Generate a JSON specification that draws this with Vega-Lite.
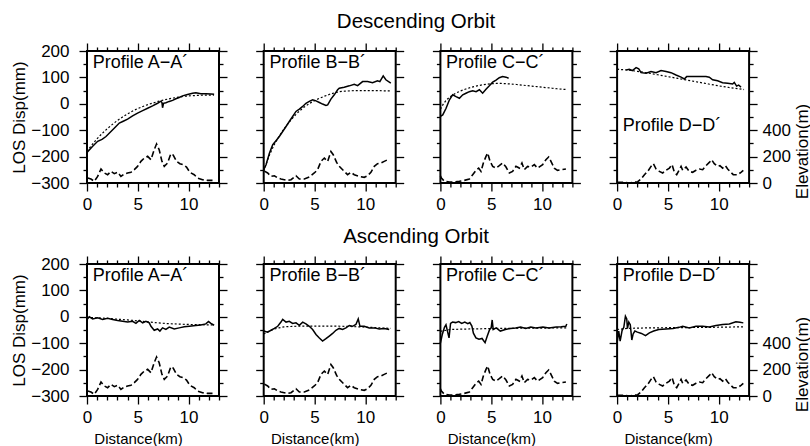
{
"$schema":"https://vega.github.io/schema/vega-lite/v6.json",
"padding":{"left":9,"top":11,"right":0,"bottom":0},
"datasets":{
"los":[
{"orbit":"Descending","profile":"A","km":0,"mm":-184},{"orbit":"Descending","profile":"A","km":0.56,"mm":-161},{"orbit":"Descending","profile":"A","km":1.05,"mm":-142},{"orbit":"Descending","profile":"A","km":1.48,"mm":-135},{"orbit":"Descending","profile":"A","km":1.87,"mm":-124},{"orbit":"Descending","profile":"A","km":2.36,"mm":-105},{"orbit":"Descending","profile":"A","km":2.85,"mm":-86},{"orbit":"Descending","profile":"A","km":3.18,"mm":-73},{"orbit":"Descending","profile":"A","km":3.57,"mm":-66},{"orbit":"Descending","profile":"A","km":4.0,"mm":-58},{"orbit":"Descending","profile":"A","km":4.49,"mm":-46},{"orbit":"Descending","profile":"A","km":4.98,"mm":-35},{"orbit":"Descending","profile":"A","km":5.48,"mm":-26},{"orbit":"Descending","profile":"A","km":5.97,"mm":-17},{"orbit":"Descending","profile":"A","km":6.46,"mm":-8},{"orbit":"Descending","profile":"A","km":6.95,"mm":2},{"orbit":"Descending","profile":"A","km":7.28,"mm":10},{"orbit":"Descending","profile":"A","km":7.38,"mm":5},{"orbit":"Descending","profile":"A","km":7.44,"mm":-15},{"orbit":"Descending","profile":"A","km":7.54,"mm":2},{"orbit":"Descending","profile":"A","km":7.77,"mm":4},{"orbit":"Descending","profile":"A","km":8.1,"mm":9},{"orbit":"Descending","profile":"A","km":8.43,"mm":13},{"orbit":"Descending","profile":"A","km":8.75,"mm":19},{"orbit":"Descending","profile":"A","km":9.08,"mm":24},{"orbit":"Descending","profile":"A","km":9.41,"mm":30},{"orbit":"Descending","profile":"A","km":9.9,"mm":35},{"orbit":"Descending","profile":"A","km":10.39,"mm":40},{"orbit":"Descending","profile":"A","km":10.72,"mm":42},{"orbit":"Descending","profile":"A","km":11.21,"mm":38},{"orbit":"Descending","profile":"A","km":11.7,"mm":38},{"orbit":"Descending","profile":"A","km":12.2,"mm":37},{"orbit":"Descending","profile":"A","km":12.52,"mm":36},
{"orbit":"Descending","profile":"B","km":0,"mm":-250},{"orbit":"Descending","profile":"B","km":0.23,"mm":-231},{"orbit":"Descending","profile":"B","km":0.56,"mm":-187},{"orbit":"Descending","profile":"B","km":0.89,"mm":-155},{"orbit":"Descending","profile":"B","km":1.21,"mm":-140},{"orbit":"Descending","profile":"B","km":1.54,"mm":-124},{"orbit":"Descending","profile":"B","km":1.87,"mm":-105},{"orbit":"Descending","profile":"B","km":2.2,"mm":-86},{"orbit":"Descending","profile":"B","km":2.52,"mm":-67},{"orbit":"Descending","profile":"B","km":2.85,"mm":-48},{"orbit":"Descending","profile":"B","km":3.18,"mm":-29},{"orbit":"Descending","profile":"B","km":3.51,"mm":-20},{"orbit":"Descending","profile":"B","km":3.84,"mm":-10},{"orbit":"Descending","profile":"B","km":4.16,"mm":2},{"orbit":"Descending","profile":"B","km":4.49,"mm":9},{"orbit":"Descending","profile":"B","km":4.82,"mm":15},{"orbit":"Descending","profile":"B","km":5.15,"mm":11},{"orbit":"Descending","profile":"B","km":5.48,"mm":5},{"orbit":"Descending","profile":"B","km":5.8,"mm":-1},{"orbit":"Descending","profile":"B","km":6.13,"mm":-6},{"orbit":"Descending","profile":"B","km":6.3,"mm":-4},{"orbit":"Descending","profile":"B","km":6.62,"mm":18},{"orbit":"Descending","profile":"B","km":6.95,"mm":34},{"orbit":"Descending","profile":"B","km":7.28,"mm":53},{"orbit":"Descending","profile":"B","km":7.44,"mm":59},{"orbit":"Descending","profile":"B","km":7.93,"mm":63},{"orbit":"Descending","profile":"B","km":8.43,"mm":68},{"orbit":"Descending","profile":"B","km":8.92,"mm":74},{"orbit":"Descending","profile":"B","km":9.25,"mm":69},{"orbit":"Descending","profile":"B","km":9.74,"mm":84},{"orbit":"Descending","profile":"B","km":10.23,"mm":84},{"orbit":"Descending","profile":"B","km":10.72,"mm":80},{"orbit":"Descending","profile":"B","km":11.21,"mm":87},{"orbit":"Descending","profile":"B","km":11.44,"mm":84},{"orbit":"Descending","profile":"B","km":11.77,"mm":106},{"orbit":"Descending","profile":"B","km":12.03,"mm":91},{"orbit":"Descending","profile":"B","km":12.52,"mm":78},
{"orbit":"Descending","profile":"C","km":0,"mm":-48},{"orbit":"Descending","profile":"C","km":0.23,"mm":-42},{"orbit":"Descending","profile":"C","km":0.56,"mm":-17},{"orbit":"Descending","profile":"C","km":0.89,"mm":15},{"orbit":"Descending","profile":"C","km":1.21,"mm":34},{"orbit":"Descending","profile":"C","km":1.54,"mm":27},{"orbit":"Descending","profile":"C","km":1.87,"mm":21},{"orbit":"Descending","profile":"C","km":2.2,"mm":34},{"orbit":"Descending","profile":"C","km":2.52,"mm":40},{"orbit":"Descending","profile":"C","km":2.85,"mm":46},{"orbit":"Descending","profile":"C","km":3.18,"mm":49},{"orbit":"Descending","profile":"C","km":3.51,"mm":46},{"orbit":"Descending","profile":"C","km":3.84,"mm":53},{"orbit":"Descending","profile":"C","km":4.16,"mm":40},{"orbit":"Descending","profile":"C","km":4.49,"mm":55},{"orbit":"Descending","profile":"C","km":4.82,"mm":68},{"orbit":"Descending","profile":"C","km":5.15,"mm":82},{"orbit":"Descending","profile":"C","km":5.48,"mm":90},{"orbit":"Descending","profile":"C","km":5.8,"mm":99},{"orbit":"Descending","profile":"C","km":6.13,"mm":103},{"orbit":"Descending","profile":"C","km":6.46,"mm":101},{"orbit":"Descending","profile":"C","km":6.72,"mm":97},
{"orbit":"Descending","profile":"D","km":0.9,"mm":128},{"orbit":"Descending","profile":"D","km":1.2,"mm":131},{"orbit":"Descending","profile":"D","km":1.5,"mm":126},{"orbit":"Descending","profile":"D","km":1.87,"mm":137},{"orbit":"Descending","profile":"D","km":2.13,"mm":132},{"orbit":"Descending","profile":"D","km":2.36,"mm":118},{"orbit":"Descending","profile":"D","km":2.85,"mm":116},{"orbit":"Descending","profile":"D","km":3.34,"mm":122},{"orbit":"Descending","profile":"D","km":3.84,"mm":118},{"orbit":"Descending","profile":"D","km":4.33,"mm":126},{"orbit":"Descending","profile":"D","km":4.82,"mm":122},{"orbit":"Descending","profile":"D","km":5.31,"mm":118},{"orbit":"Descending","profile":"D","km":5.8,"mm":109},{"orbit":"Descending","profile":"D","km":6.3,"mm":101},{"orbit":"Descending","profile":"D","km":6.62,"mm":94},{"orbit":"Descending","profile":"D","km":6.85,"mm":103},{"orbit":"Descending","profile":"D","km":7.44,"mm":103},{"orbit":"Descending","profile":"D","km":8.1,"mm":103},{"orbit":"Descending","profile":"D","km":8.75,"mm":103},{"orbit":"Descending","profile":"D","km":9.08,"mm":101},{"orbit":"Descending","profile":"D","km":9.41,"mm":91},{"orbit":"Descending","profile":"D","km":9.9,"mm":87},{"orbit":"Descending","profile":"D","km":10.39,"mm":80},{"orbit":"Descending","profile":"D","km":10.89,"mm":78},{"orbit":"Descending","profile":"D","km":11.38,"mm":75},{"orbit":"Descending","profile":"D","km":11.54,"mm":81},{"orbit":"Descending","profile":"D","km":11.77,"mm":67},{"orbit":"Descending","profile":"D","km":11.97,"mm":71},{"orbit":"Descending","profile":"D","km":12.2,"mm":63},
{"orbit":"Ascending","profile":"A","km":0,"mm":-10},{"orbit":"Ascending","profile":"A","km":0.23,"mm":0},{"orbit":"Ascending","profile":"A","km":0.56,"mm":-8},{"orbit":"Ascending","profile":"A","km":1.05,"mm":-4},{"orbit":"Ascending","profile":"A","km":1.54,"mm":-10},{"orbit":"Ascending","profile":"A","km":2.03,"mm":-6},{"orbit":"Ascending","profile":"A","km":2.52,"mm":-10},{"orbit":"Ascending","profile":"A","km":3.02,"mm":-14},{"orbit":"Ascending","profile":"A","km":3.51,"mm":-17},{"orbit":"Ascending","profile":"A","km":4.0,"mm":-20},{"orbit":"Ascending","profile":"A","km":4.49,"mm":-17},{"orbit":"Ascending","profile":"A","km":4.82,"mm":-25},{"orbit":"Ascending","profile":"A","km":5.15,"mm":-14},{"orbit":"Ascending","profile":"A","km":5.48,"mm":-23},{"orbit":"Ascending","profile":"A","km":5.8,"mm":-17},{"orbit":"Ascending","profile":"A","km":6.13,"mm":-23},{"orbit":"Ascending","profile":"A","km":6.3,"mm":-36},{"orbit":"Ascending","profile":"A","km":6.62,"mm":-51},{"orbit":"Ascending","profile":"A","km":6.95,"mm":-46},{"orbit":"Ascending","profile":"A","km":7.18,"mm":-54},{"orbit":"Ascending","profile":"A","km":7.44,"mm":-42},{"orbit":"Ascending","profile":"A","km":7.77,"mm":-48},{"orbit":"Ascending","profile":"A","km":8.1,"mm":-39},{"orbit":"Ascending","profile":"A","km":8.59,"mm":-46},{"orbit":"Ascending","profile":"A","km":9.08,"mm":-42},{"orbit":"Ascending","profile":"A","km":9.57,"mm":-38},{"orbit":"Ascending","profile":"A","km":10.07,"mm":-36},{"orbit":"Ascending","profile":"A","km":10.72,"mm":-33},{"orbit":"Ascending","profile":"A","km":11.21,"mm":-31},{"orbit":"Ascending","profile":"A","km":11.7,"mm":-27},{"orbit":"Ascending","profile":"A","km":11.97,"mm":-18},{"orbit":"Ascending","profile":"A","km":12.2,"mm":-25},{"orbit":"Ascending","profile":"A","km":12.52,"mm":-32},
{"orbit":"Ascending","profile":"B","km":0,"mm":-54},{"orbit":"Ascending","profile":"B","km":0.39,"mm":-58},{"orbit":"Ascending","profile":"B","km":0.72,"mm":-51},{"orbit":"Ascending","profile":"B","km":1.05,"mm":-44},{"orbit":"Ascending","profile":"B","km":1.38,"mm":-36},{"orbit":"Ascending","profile":"B","km":1.7,"mm":-20},{"orbit":"Ascending","profile":"B","km":1.87,"mm":-10},{"orbit":"Ascending","profile":"B","km":2.2,"mm":-20},{"orbit":"Ascending","profile":"B","km":2.52,"mm":-17},{"orbit":"Ascending","profile":"B","km":2.85,"mm":-25},{"orbit":"Ascending","profile":"B","km":3.18,"mm":-23},{"orbit":"Ascending","profile":"B","km":3.51,"mm":-32},{"orbit":"Ascending","profile":"B","km":3.84,"mm":-20},{"orbit":"Ascending","profile":"B","km":4.16,"mm":-27},{"orbit":"Ascending","profile":"B","km":4.49,"mm":-36},{"orbit":"Ascending","profile":"B","km":4.82,"mm":-48},{"orbit":"Ascending","profile":"B","km":5.15,"mm":-67},{"orbit":"Ascending","profile":"B","km":5.48,"mm":-80},{"orbit":"Ascending","profile":"B","km":5.8,"mm":-92},{"orbit":"Ascending","profile":"B","km":6.13,"mm":-83},{"orbit":"Ascending","profile":"B","km":6.46,"mm":-73},{"orbit":"Ascending","profile":"B","km":6.79,"mm":-63},{"orbit":"Ascending","profile":"B","km":7.11,"mm":-51},{"orbit":"Ascending","profile":"B","km":7.44,"mm":-44},{"orbit":"Ascending","profile":"B","km":7.77,"mm":-48},{"orbit":"Ascending","profile":"B","km":8.1,"mm":-42},{"orbit":"Ascending","profile":"B","km":8.43,"mm":-33},{"orbit":"Ascending","profile":"B","km":8.75,"mm":-36},{"orbit":"Ascending","profile":"B","km":9.08,"mm":-29},{"orbit":"Ascending","profile":"B","km":9.31,"mm":-8},{"orbit":"Ascending","profile":"B","km":9.48,"mm":-36},{"orbit":"Ascending","profile":"B","km":9.9,"mm":-36},{"orbit":"Ascending","profile":"B","km":10.39,"mm":-42},{"orbit":"Ascending","profile":"B","km":10.89,"mm":-42},{"orbit":"Ascending","profile":"B","km":11.38,"mm":-46},{"orbit":"Ascending","profile":"B","km":11.87,"mm":-44},{"orbit":"Ascending","profile":"B","km":12.36,"mm":-48},
{"orbit":"Ascending","profile":"C","km":0,"mm":-100},{"orbit":"Ascending","profile":"C","km":0.2,"mm":-65},{"orbit":"Ascending","profile":"C","km":0.4,"mm":-40},{"orbit":"Ascending","profile":"C","km":0.55,"mm":-30},{"orbit":"Ascending","profile":"C","km":0.7,"mm":-55},{"orbit":"Ascending","profile":"C","km":0.85,"mm":-80},{"orbit":"Ascending","profile":"C","km":1.0,"mm":-25},{"orbit":"Ascending","profile":"C","km":1.2,"mm":-20},{"orbit":"Ascending","profile":"C","km":1.5,"mm":-22},{"orbit":"Ascending","profile":"C","km":1.8,"mm":-18},{"orbit":"Ascending","profile":"C","km":2.1,"mm":-25},{"orbit":"Ascending","profile":"C","km":2.4,"mm":-20},{"orbit":"Ascending","profile":"C","km":2.7,"mm":-26},{"orbit":"Ascending","profile":"C","km":2.9,"mm":-22},{"orbit":"Ascending","profile":"C","km":3.1,"mm":-35},{"orbit":"Ascending","profile":"C","km":3.25,"mm":-62},{"orbit":"Ascending","profile":"C","km":3.5,"mm":-80},{"orbit":"Ascending","profile":"C","km":3.8,"mm":-85},{"orbit":"Ascending","profile":"C","km":4.1,"mm":-82},{"orbit":"Ascending","profile":"C","km":4.4,"mm":-98},{"orbit":"Ascending","profile":"C","km":4.6,"mm":-75},{"orbit":"Ascending","profile":"C","km":4.85,"mm":-48},{"orbit":"Ascending","profile":"C","km":5.0,"mm":-42},{"orbit":"Ascending","profile":"C","km":5.1,"mm":-12},{"orbit":"Ascending","profile":"C","km":5.2,"mm":-48},{"orbit":"Ascending","profile":"C","km":5.5,"mm":-42},{"orbit":"Ascending","profile":"C","km":5.9,"mm":-54},{"orbit":"Ascending","profile":"C","km":6.4,"mm":-48},{"orbit":"Ascending","profile":"C","km":6.9,"mm":-44},{"orbit":"Ascending","profile":"C","km":7.4,"mm":-42},{"orbit":"Ascending","profile":"C","km":7.9,"mm":-39},{"orbit":"Ascending","profile":"C","km":8.4,"mm":-44},{"orbit":"Ascending","profile":"C","km":8.9,"mm":-39},{"orbit":"Ascending","profile":"C","km":9.4,"mm":-42},{"orbit":"Ascending","profile":"C","km":10.1,"mm":-39},{"orbit":"Ascending","profile":"C","km":10.7,"mm":-42},{"orbit":"Ascending","profile":"C","km":11.4,"mm":-39},{"orbit":"Ascending","profile":"C","km":11.9,"mm":-38},{"orbit":"Ascending","profile":"C","km":12.35,"mm":-36},{"orbit":"Ascending","profile":"C","km":12.45,"mm":-27},
{"orbit":"Ascending","profile":"D","km":0,"mm":-98},{"orbit":"Ascending","profile":"D","km":0.16,"mm":-54},{"orbit":"Ascending","profile":"D","km":0.3,"mm":-92},{"orbit":"Ascending","profile":"D","km":0.49,"mm":-52},{"orbit":"Ascending","profile":"D","km":0.66,"mm":-40},{"orbit":"Ascending","profile":"D","km":0.82,"mm":2},{"orbit":"Ascending","profile":"D","km":0.95,"mm":-8},{"orbit":"Ascending","profile":"D","km":1.02,"mm":-45},{"orbit":"Ascending","profile":"D","km":1.15,"mm":-20},{"orbit":"Ascending","profile":"D","km":1.3,"mm":-30},{"orbit":"Ascending","profile":"D","km":1.45,"mm":-88},{"orbit":"Ascending","profile":"D","km":1.58,"mm":-65},{"orbit":"Ascending","profile":"D","km":1.75,"mm":-54},{"orbit":"Ascending","profile":"D","km":2.0,"mm":-58},{"orbit":"Ascending","profile":"D","km":2.4,"mm":-63},{"orbit":"Ascending","profile":"D","km":2.8,"mm":-71},{"orbit":"Ascending","profile":"D","km":3.18,"mm":-61},{"orbit":"Ascending","profile":"D","km":3.6,"mm":-54},{"orbit":"Ascending","profile":"D","km":4.1,"mm":-48},{"orbit":"Ascending","profile":"D","km":4.82,"mm":-46},{"orbit":"Ascending","profile":"D","km":5.5,"mm":-44},{"orbit":"Ascending","profile":"D","km":6.1,"mm":-40},{"orbit":"Ascending","profile":"D","km":6.46,"mm":-36},{"orbit":"Ascending","profile":"D","km":7.1,"mm":-42},{"orbit":"Ascending","profile":"D","km":7.77,"mm":-36},{"orbit":"Ascending","profile":"D","km":8.43,"mm":-36},{"orbit":"Ascending","profile":"D","km":9.08,"mm":-39},{"orbit":"Ascending","profile":"D","km":9.74,"mm":-33},{"orbit":"Ascending","profile":"D","km":10.39,"mm":-29},{"orbit":"Ascending","profile":"D","km":11.05,"mm":-27},{"orbit":"Ascending","profile":"D","km":11.7,"mm":-19},{"orbit":"Ascending","profile":"D","km":12.1,"mm":-21},{"orbit":"Ascending","profile":"D","km":12.43,"mm":-23}
],
"model":[
{"orbit":"Descending","profile":"A","km":0,"mm":-180},{"orbit":"Descending","profile":"A","km":0.5,"mm":-155},{"orbit":"Descending","profile":"A","km":1,"mm":-132},{"orbit":"Descending","profile":"A","km":1.5,"mm":-112},{"orbit":"Descending","profile":"A","km":2,"mm":-94},{"orbit":"Descending","profile":"A","km":2.5,"mm":-78},{"orbit":"Descending","profile":"A","km":3,"mm":-63},{"orbit":"Descending","profile":"A","km":3.5,"mm":-50},{"orbit":"Descending","profile":"A","km":4,"mm":-38},{"orbit":"Descending","profile":"A","km":4.5,"mm":-27},{"orbit":"Descending","profile":"A","km":5,"mm":-18},{"orbit":"Descending","profile":"A","km":5.5,"mm":-10},{"orbit":"Descending","profile":"A","km":6,"mm":-3},{"orbit":"Descending","profile":"A","km":6.5,"mm":3},{"orbit":"Descending","profile":"A","km":7,"mm":9},{"orbit":"Descending","profile":"A","km":7.5,"mm":14},{"orbit":"Descending","profile":"A","km":8,"mm":18},{"orbit":"Descending","profile":"A","km":8.5,"mm":22},{"orbit":"Descending","profile":"A","km":9,"mm":25},{"orbit":"Descending","profile":"A","km":9.5,"mm":28},{"orbit":"Descending","profile":"A","km":10,"mm":30},{"orbit":"Descending","profile":"A","km":10.5,"mm":31},{"orbit":"Descending","profile":"A","km":11,"mm":32},{"orbit":"Descending","profile":"A","km":11.5,"mm":33},{"orbit":"Descending","profile":"A","km":12,"mm":33},{"orbit":"Descending","profile":"A","km":12.5,"mm":33},
{"orbit":"Descending","profile":"B","km":0,"mm":-255},{"orbit":"Descending","profile":"B","km":0.5,"mm":-200},{"orbit":"Descending","profile":"B","km":1,"mm":-157},{"orbit":"Descending","profile":"B","km":1.5,"mm":-124},{"orbit":"Descending","profile":"B","km":2,"mm":-95},{"orbit":"Descending","profile":"B","km":2.5,"mm":-70},{"orbit":"Descending","profile":"B","km":3,"mm":-47},{"orbit":"Descending","profile":"B","km":3.5,"mm":-28},{"orbit":"Descending","profile":"B","km":4,"mm":-12},{"orbit":"Descending","profile":"B","km":4.5,"mm":1},{"orbit":"Descending","profile":"B","km":5,"mm":12},{"orbit":"Descending","profile":"B","km":5.5,"mm":21},{"orbit":"Descending","profile":"B","km":6,"mm":29},{"orbit":"Descending","profile":"B","km":6.5,"mm":36},{"orbit":"Descending","profile":"B","km":7,"mm":42},{"orbit":"Descending","profile":"B","km":7.5,"mm":46},{"orbit":"Descending","profile":"B","km":8,"mm":48},{"orbit":"Descending","profile":"B","km":8.5,"mm":49},{"orbit":"Descending","profile":"B","km":9,"mm":50},{"orbit":"Descending","profile":"B","km":10,"mm":50},{"orbit":"Descending","profile":"B","km":11,"mm":50},{"orbit":"Descending","profile":"B","km":12,"mm":49},{"orbit":"Descending","profile":"B","km":12.5,"mm":49},
{"orbit":"Descending","profile":"C","km":0,"mm":-20},{"orbit":"Descending","profile":"C","km":0.3,"mm":0},{"orbit":"Descending","profile":"C","km":0.6,"mm":15},{"orbit":"Descending","profile":"C","km":1,"mm":28},{"orbit":"Descending","profile":"C","km":1.5,"mm":40},{"orbit":"Descending","profile":"C","km":2,"mm":49},{"orbit":"Descending","profile":"C","km":2.5,"mm":56},{"orbit":"Descending","profile":"C","km":3,"mm":62},{"orbit":"Descending","profile":"C","km":3.5,"mm":67},{"orbit":"Descending","profile":"C","km":4,"mm":71},{"orbit":"Descending","profile":"C","km":4.5,"mm":74},{"orbit":"Descending","profile":"C","km":5,"mm":76},{"orbit":"Descending","profile":"C","km":5.5,"mm":77},{"orbit":"Descending","profile":"C","km":6,"mm":77},{"orbit":"Descending","profile":"C","km":6.5,"mm":76},{"orbit":"Descending","profile":"C","km":7,"mm":75},{"orbit":"Descending","profile":"C","km":7.5,"mm":73},{"orbit":"Descending","profile":"C","km":8,"mm":71},{"orbit":"Descending","profile":"C","km":8.5,"mm":69},{"orbit":"Descending","profile":"C","km":9,"mm":67},{"orbit":"Descending","profile":"C","km":9.5,"mm":65},{"orbit":"Descending","profile":"C","km":10,"mm":63},{"orbit":"Descending","profile":"C","km":10.5,"mm":61},{"orbit":"Descending","profile":"C","km":11,"mm":59},{"orbit":"Descending","profile":"C","km":11.5,"mm":57},{"orbit":"Descending","profile":"C","km":12,"mm":55},{"orbit":"Descending","profile":"C","km":12.5,"mm":54},
{"orbit":"Descending","profile":"D","km":0,"mm":131},{"orbit":"Descending","profile":"D","km":1,"mm":128},{"orbit":"Descending","profile":"D","km":2,"mm":123},{"orbit":"Descending","profile":"D","km":3,"mm":117},{"orbit":"Descending","profile":"D","km":4,"mm":110},{"orbit":"Descending","profile":"D","km":5,"mm":103},{"orbit":"Descending","profile":"D","km":6,"mm":96},{"orbit":"Descending","profile":"D","km":7,"mm":89},{"orbit":"Descending","profile":"D","km":8,"mm":82},{"orbit":"Descending","profile":"D","km":9,"mm":75},{"orbit":"Descending","profile":"D","km":10,"mm":68},{"orbit":"Descending","profile":"D","km":11,"mm":62},{"orbit":"Descending","profile":"D","km":12,"mm":57},{"orbit":"Descending","profile":"D","km":12.5,"mm":54},
{"orbit":"Ascending","profile":"A","km":0,"mm":-2},{"orbit":"Ascending","profile":"A","km":2,"mm":-6},{"orbit":"Ascending","profile":"A","km":4,"mm":-12},{"orbit":"Ascending","profile":"A","km":6,"mm":-19},{"orbit":"Ascending","profile":"A","km":7,"mm":-23},{"orbit":"Ascending","profile":"A","km":8,"mm":-26},{"orbit":"Ascending","profile":"A","km":10,"mm":-29},{"orbit":"Ascending","profile":"A","km":12.5,"mm":-31},
{"orbit":"Ascending","profile":"B","km":0,"mm":-65},{"orbit":"Ascending","profile":"B","km":0.5,"mm":-55},{"orbit":"Ascending","profile":"B","km":1,"mm":-47},{"orbit":"Ascending","profile":"B","km":1.5,"mm":-42},{"orbit":"Ascending","profile":"B","km":2,"mm":-38},{"orbit":"Ascending","profile":"B","km":3,"mm":-36},{"orbit":"Ascending","profile":"B","km":4,"mm":-35},{"orbit":"Ascending","profile":"B","km":6,"mm":-35},{"orbit":"Ascending","profile":"B","km":8,"mm":-36},{"orbit":"Ascending","profile":"B","km":10,"mm":-39},{"orbit":"Ascending","profile":"B","km":12.5,"mm":-44},
{"orbit":"Ascending","profile":"C","km":0,"mm":-55},{"orbit":"Ascending","profile":"C","km":1,"mm":-48},{"orbit":"Ascending","profile":"C","km":3,"mm":-46},{"orbit":"Ascending","profile":"C","km":6,"mm":-44},{"orbit":"Ascending","profile":"C","km":9,"mm":-43},{"orbit":"Ascending","profile":"C","km":12.5,"mm":-42},
{"orbit":"Ascending","profile":"D","km":0,"mm":-48},{"orbit":"Ascending","profile":"D","km":1,"mm":-44},{"orbit":"Ascending","profile":"D","km":3,"mm":-42},{"orbit":"Ascending","profile":"D","km":6,"mm":-41},{"orbit":"Ascending","profile":"D","km":9,"mm":-40},{"orbit":"Ascending","profile":"D","km":12.5,"mm":-38}
],
"elevation":[
{"profile":"A","km":0.07,"m":38},{"profile":"A","km":0.39,"m":30},{"profile":"A","km":0.72,"m":13},{"profile":"A","km":1.05,"m":50},{"profile":"A","km":1.38,"m":106},{"profile":"A","km":1.7,"m":76},{"profile":"A","km":2.03,"m":63},{"profile":"A","km":2.36,"m":88},{"profile":"A","km":2.69,"m":71},{"profile":"A","km":3.02,"m":81},{"profile":"A","km":3.34,"m":50},{"profile":"A","km":3.67,"m":68},{"profile":"A","km":4.0,"m":76},{"profile":"A","km":4.33,"m":81},{"profile":"A","km":4.66,"m":101},{"profile":"A","km":4.98,"m":126},{"profile":"A","km":5.31,"m":164},{"profile":"A","km":5.64,"m":189},{"profile":"A","km":5.97,"m":202},{"profile":"A","km":6.3,"m":176},{"profile":"A","km":6.62,"m":252},{"profile":"A","km":6.85,"m":295},{"profile":"A","km":7.11,"m":252},{"profile":"A","km":7.38,"m":164},{"profile":"A","km":7.61,"m":126},{"profile":"A","km":7.93,"m":151},{"profile":"A","km":8.26,"m":222},{"profile":"A","km":8.49,"m":212},{"profile":"A","km":8.82,"m":164},{"profile":"A","km":9.15,"m":146},{"profile":"A","km":9.48,"m":139},{"profile":"A","km":9.8,"m":121},{"profile":"A","km":10.13,"m":81},{"profile":"A","km":10.56,"m":63},{"profile":"A","km":10.89,"m":38},{"profile":"A","km":11.38,"m":25},{"profile":"A","km":11.87,"m":20},{"profile":"A","km":12.36,"m":20},
{"profile":"B","km":0.07,"m":90},{"profile":"B","km":0.39,"m":76},{"profile":"B","km":0.72,"m":50},{"profile":"B","km":1.05,"m":55},{"profile":"B","km":1.38,"m":38},{"profile":"B","km":1.7,"m":30},{"profile":"B","km":2.03,"m":25},{"profile":"B","km":2.36,"m":20},{"profile":"B","km":2.69,"m":25},{"profile":"B","km":3.18,"m":55},{"profile":"B","km":3.51,"m":30},{"profile":"B","km":4.0,"m":30},{"profile":"B","km":4.49,"m":45},{"profile":"B","km":4.98,"m":76},{"profile":"B","km":5.31,"m":101},{"profile":"B","km":5.64,"m":164},{"profile":"B","km":5.97,"m":189},{"profile":"B","km":6.3,"m":164},{"profile":"B","km":6.62,"m":239},{"profile":"B","km":6.85,"m":214},{"profile":"B","km":7.18,"m":156},{"profile":"B","km":7.51,"m":121},{"profile":"B","km":7.93,"m":88},{"profile":"B","km":8.26,"m":63},{"profile":"B","km":8.59,"m":81},{"profile":"B","km":8.92,"m":63},{"profile":"B","km":9.41,"m":50},{"profile":"B","km":9.9,"m":43},{"profile":"B","km":10.23,"m":55},{"profile":"B","km":10.56,"m":81},{"profile":"B","km":10.89,"m":126},{"profile":"B","km":11.21,"m":146},{"profile":"B","km":11.54,"m":151},{"profile":"B","km":11.87,"m":164},{"profile":"B","km":12.2,"m":176},
{"profile":"C","km":0,"m":55},{"profile":"C","km":0.1,"m":38},{"profile":"C","km":0.39,"m":13},{"profile":"C","km":0.89,"m":8},{"profile":"C","km":1.38,"m":8},{"profile":"C","km":1.87,"m":13},{"profile":"C","km":2.36,"m":20},{"profile":"C","km":2.85,"m":30},{"profile":"C","km":3.18,"m":63},{"profile":"C","km":3.51,"m":96},{"profile":"C","km":3.77,"m":113},{"profile":"C","km":4.0,"m":88},{"profile":"C","km":4.23,"m":151},{"profile":"C","km":4.49,"m":202},{"profile":"C","km":4.66,"m":227},{"profile":"C","km":4.89,"m":164},{"profile":"C","km":5.15,"m":126},{"profile":"C","km":5.48,"m":113},{"profile":"C","km":5.8,"m":131},{"profile":"C","km":6.13,"m":151},{"profile":"C","km":6.46,"m":121},{"profile":"C","km":6.79,"m":76},{"profile":"C","km":7.11,"m":88},{"profile":"C","km":7.44,"m":126},{"profile":"C","km":7.77,"m":113},{"profile":"C","km":8.03,"m":151},{"profile":"C","km":8.26,"m":101},{"profile":"C","km":8.59,"m":126},{"profile":"C","km":8.92,"m":121},{"profile":"C","km":9.25,"m":139},{"profile":"C","km":9.57,"m":113},{"profile":"C","km":10.07,"m":139},{"profile":"C","km":10.39,"m":176},{"profile":"C","km":10.66,"m":197},{"profile":"C","km":10.89,"m":164},{"profile":"C","km":11.21,"m":113},{"profile":"C","km":11.54,"m":96},{"profile":"C","km":11.97,"m":101},{"profile":"C","km":12.36,"m":106},
{"profile":"D","km":0,"m":5},{"profile":"D","km":0.56,"m":5},{"profile":"D","km":1.21,"m":0},{"profile":"D","km":2.03,"m":10},{"profile":"D","km":2.36,"m":30},{"profile":"D","km":2.69,"m":63},{"profile":"D","km":3.02,"m":88},{"profile":"D","km":3.34,"m":126},{"profile":"D","km":3.57,"m":146},{"profile":"D","km":3.84,"m":106},{"profile":"D","km":4.16,"m":88},{"profile":"D","km":4.49,"m":76},{"profile":"D","km":4.82,"m":96},{"profile":"D","km":5.15,"m":113},{"profile":"D","km":5.41,"m":139},{"profile":"D","km":5.64,"m":81},{"profile":"D","km":5.87,"m":63},{"profile":"D","km":6.13,"m":101},{"profile":"D","km":6.3,"m":126},{"profile":"D","km":6.46,"m":96},{"profile":"D","km":6.79,"m":121},{"profile":"D","km":7.11,"m":88},{"profile":"D","km":7.44,"m":81},{"profile":"D","km":7.77,"m":96},{"profile":"D","km":8.1,"m":106},{"profile":"D","km":8.43,"m":101},{"profile":"D","km":8.75,"m":131},{"profile":"D","km":9.08,"m":156},{"profile":"D","km":9.31,"m":176},{"profile":"D","km":9.57,"m":146},{"profile":"D","km":9.9,"m":126},{"profile":"D","km":10.13,"m":131},{"profile":"D","km":10.39,"m":113},{"profile":"D","km":10.66,"m":131},{"profile":"D","km":10.89,"m":106},{"profile":"D","km":11.11,"m":88},{"profile":"D","km":11.44,"m":63},{"profile":"D","km":11.87,"m":63},{"profile":"D","km":12.2,"m":81},{"profile":"D","km":12.43,"m":96}
],
"labels":[
{"orbit":"Descending","profile":"A","label":"Profile A−A´"},{"orbit":"Descending","profile":"B","label":"Profile B−B´"},{"orbit":"Descending","profile":"C","label":"Profile C−C´"},{"orbit":"Descending","profile":"D","label":"Profile D−D´"},
{"orbit":"Ascending","profile":"A","label":"Profile A−A´"},{"orbit":"Ascending","profile":"B","label":"Profile B−B´"},{"orbit":"Ascending","profile":"C","label":"Profile C−C´"},{"orbit":"Ascending","profile":"D","label":"Profile D−D´"}
]
},
"vconcat":[
{"title":{"text":"Descending Orbit","fontSize":20.5,"anchor":"middle","dx":6,"offset":9},
"bounds":"flush","spacing":44.7,
"hconcat":[
{"width":132,"height":132,"resolve":{"scale":{"x":"independent","y":"independent"}},"layer":[
{"data":{"name":"los"},"transform":[{"filter":"datum.orbit === 'Descending' && datum.profile === 'A'"}],"mark":{"type":"line","color":"black","strokeWidth":1.5},"encoding":{"x":{"field":"km","type":"quantitative","scale":{"domain":[0,13],"nice":false},"axis":{"orient":"bottom","values":[0,1,2,3,4,5,6,7,8,9,10,11,12,13],"labelExpr":"datum.value % 5 === 0 ? datum.label : ''","tickSize":{"condition":{"test":"datum.value % 5 === 0","value":8},"value":4},"labelPadding":5,"title":null}},"y":{"field":"mm","type":"quantitative","scale":{"domain":[-300,200],"nice":false},"axis":{"orient":"left","values":[-300,-250,-200,-150,-100,-50,0,50,100,150,200],"labelExpr":"datum.value % 100 === 0 ? datum.label : ''","tickSize":{"condition":{"test":"datum.value % 100 === 0","value":8},"value":4},"labelPadding":10,"title":"LOS Disp(mm)","titleX":-63,"titleY":66,"titleBaseline":"alphabetic"}}}},
{"data":{"name":"model"},"transform":[{"filter":"datum.orbit === 'Descending' && datum.profile === 'A'"}],"mark":{"type":"line","color":"black","strokeWidth":1.2,"strokeDash":[2,2]},"encoding":{"x":{"field":"km","type":"quantitative","scale":{"domain":[0,13],"nice":false},"axis":{"orient":"top","values":[0,1,2,3,4,5,6,7,8,9,10,11,12,13],"labels":false,"tickSize":{"condition":{"test":"datum.value % 5 === 0","value":8},"value":4},"title":null}},"y":{"field":"mm","type":"quantitative","scale":{"domain":[-300,200],"nice":false},"axis":{"orient":"right","values":[-300,-250,-200,-150,-100,-50,0,50,100,150,200],"labels":false,"tickSize":{"condition":{"test":"datum.value % 100 === 0","value":8},"value":4},"title":null}}}},
{"data":{"name":"elevation"},"transform":[{"filter":"datum.profile === 'A'"}],"mark":{"type":"line","color":"black","strokeWidth":1.6,"strokeDash":[6,3]},"encoding":{"x":{"field":"km","type":"quantitative","scale":{"domain":[0,13],"nice":false},"axis":null},"y":{"field":"m","type":"quantitative","scale":{"domain":[0,1000],"nice":false},"axis":null}}},
{"data":{"name":"labels"},"transform":[{"filter":"datum.orbit === 'Descending' && datum.profile === 'A'"}],"mark":{"type":"text","align":"left","baseline":"alphabetic","fontSize":18,"color":"black"},"encoding":{"x":{"datum":0.56,"type":"quantitative","scale":{"domain":[0,13],"nice":false},"axis":null},"y":{"datum":134,"type":"quantitative","scale":{"domain":[-300,200],"nice":false},"axis":null},"text":{"field":"label"}}}
]},
{"width":132,"height":132,"resolve":{"scale":{"x":"independent","y":"independent"}},"layer":[
{"data":{"name":"los"},"transform":[{"filter":"datum.orbit === 'Descending' && datum.profile === 'B'"}],"mark":{"type":"line","color":"black","strokeWidth":1.5},"encoding":{"x":{"field":"km","type":"quantitative","scale":{"domain":[0,13],"nice":false},"axis":{"orient":"bottom","values":[0,1,2,3,4,5,6,7,8,9,10,11,12,13],"labelExpr":"datum.value % 5 === 0 ? datum.label : ''","tickSize":{"condition":{"test":"datum.value % 5 === 0","value":8},"value":4},"labelPadding":5,"title":null}},"y":{"field":"mm","type":"quantitative","scale":{"domain":[-300,200],"nice":false},"axis":{"orient":"left","values":[-300,-250,-200,-150,-100,-50,0,50,100,150,200],"labels":false,"tickSize":{"condition":{"test":"datum.value % 100 === 0","value":8},"value":4},"title":null}}}},
{"data":{"name":"model"},"transform":[{"filter":"datum.orbit === 'Descending' && datum.profile === 'B'"}],"mark":{"type":"line","color":"black","strokeWidth":1.2,"strokeDash":[2,2]},"encoding":{"x":{"field":"km","type":"quantitative","scale":{"domain":[0,13],"nice":false},"axis":{"orient":"top","values":[0,1,2,3,4,5,6,7,8,9,10,11,12,13],"labels":false,"tickSize":{"condition":{"test":"datum.value % 5 === 0","value":8},"value":4},"title":null}},"y":{"field":"mm","type":"quantitative","scale":{"domain":[-300,200],"nice":false},"axis":{"orient":"right","values":[-300,-250,-200,-150,-100,-50,0,50,100,150,200],"labels":false,"tickSize":{"condition":{"test":"datum.value % 100 === 0","value":8},"value":4},"title":null}}}},
{"data":{"name":"elevation"},"transform":[{"filter":"datum.profile === 'B'"}],"mark":{"type":"line","color":"black","strokeWidth":1.6,"strokeDash":[6,3]},"encoding":{"x":{"field":"km","type":"quantitative","scale":{"domain":[0,13],"nice":false},"axis":null},"y":{"field":"m","type":"quantitative","scale":{"domain":[0,1000],"nice":false},"axis":null}}},
{"data":{"name":"labels"},"transform":[{"filter":"datum.orbit === 'Descending' && datum.profile === 'B'"}],"mark":{"type":"text","align":"left","baseline":"alphabetic","fontSize":18,"color":"black"},"encoding":{"x":{"datum":0.56,"type":"quantitative","scale":{"domain":[0,13],"nice":false},"axis":null},"y":{"datum":134,"type":"quantitative","scale":{"domain":[-300,200],"nice":false},"axis":null},"text":{"field":"label"}}}
]},
{"width":132,"height":132,"resolve":{"scale":{"x":"independent","y":"independent"}},"layer":[
{"data":{"name":"los"},"transform":[{"filter":"datum.orbit === 'Descending' && datum.profile === 'C'"}],"mark":{"type":"line","color":"black","strokeWidth":1.5},"encoding":{"x":{"field":"km","type":"quantitative","scale":{"domain":[0,13],"nice":false},"axis":{"orient":"bottom","values":[0,1,2,3,4,5,6,7,8,9,10,11,12,13],"labelExpr":"datum.value % 5 === 0 ? datum.label : ''","tickSize":{"condition":{"test":"datum.value % 5 === 0","value":8},"value":4},"labelPadding":5,"title":null}},"y":{"field":"mm","type":"quantitative","scale":{"domain":[-300,200],"nice":false},"axis":{"orient":"left","values":[-300,-250,-200,-150,-100,-50,0,50,100,150,200],"labels":false,"tickSize":{"condition":{"test":"datum.value % 100 === 0","value":8},"value":4},"title":null}}}},
{"data":{"name":"model"},"transform":[{"filter":"datum.orbit === 'Descending' && datum.profile === 'C'"}],"mark":{"type":"line","color":"black","strokeWidth":1.2,"strokeDash":[2,2]},"encoding":{"x":{"field":"km","type":"quantitative","scale":{"domain":[0,13],"nice":false},"axis":{"orient":"top","values":[0,1,2,3,4,5,6,7,8,9,10,11,12,13],"labels":false,"tickSize":{"condition":{"test":"datum.value % 5 === 0","value":8},"value":4},"title":null}},"y":{"field":"mm","type":"quantitative","scale":{"domain":[-300,200],"nice":false},"axis":{"orient":"right","values":[-300,-250,-200,-150,-100,-50,0,50,100,150,200],"labels":false,"tickSize":{"condition":{"test":"datum.value % 100 === 0","value":8},"value":4},"title":null}}}},
{"data":{"name":"elevation"},"transform":[{"filter":"datum.profile === 'C'"}],"mark":{"type":"line","color":"black","strokeWidth":1.6,"strokeDash":[6,3]},"encoding":{"x":{"field":"km","type":"quantitative","scale":{"domain":[0,13],"nice":false},"axis":null},"y":{"field":"m","type":"quantitative","scale":{"domain":[0,1000],"nice":false},"axis":null}}},
{"data":{"name":"labels"},"transform":[{"filter":"datum.orbit === 'Descending' && datum.profile === 'C'"}],"mark":{"type":"text","align":"left","baseline":"alphabetic","fontSize":18,"color":"black"},"encoding":{"x":{"datum":0.56,"type":"quantitative","scale":{"domain":[0,13],"nice":false},"axis":null},"y":{"datum":134,"type":"quantitative","scale":{"domain":[-300,200],"nice":false},"axis":null},"text":{"field":"label"}}}
]},
{"width":132,"height":132,"resolve":{"scale":{"x":"independent","y":"independent"}},"layer":[
{"data":{"name":"los"},"transform":[{"filter":"datum.orbit === 'Descending' && datum.profile === 'D'"}],"mark":{"type":"line","color":"black","strokeWidth":1.5},"encoding":{"x":{"field":"km","type":"quantitative","scale":{"domain":[0,13],"nice":false},"axis":{"orient":"bottom","values":[0,1,2,3,4,5,6,7,8,9,10,11,12,13],"labelExpr":"datum.value % 5 === 0 ? datum.label : ''","tickSize":{"condition":{"test":"datum.value % 5 === 0","value":8},"value":4},"labelPadding":5,"title":null}},"y":{"field":"mm","type":"quantitative","scale":{"domain":[-300,200],"nice":false},"axis":{"orient":"left","values":[-300,-250,-200,-150,-100,-50,0,50,100,150,200],"labels":false,"tickSize":{"condition":{"test":"datum.value % 100 === 0","value":8},"value":4},"title":null}}}},
{"data":{"name":"model"},"transform":[{"filter":"datum.orbit === 'Descending' && datum.profile === 'D'"}],"mark":{"type":"line","color":"black","strokeWidth":1.2,"strokeDash":[2,2]},"encoding":{"x":{"field":"km","type":"quantitative","scale":{"domain":[0,13],"nice":false},"axis":{"orient":"top","values":[0,1,2,3,4,5,6,7,8,9,10,11,12,13],"labels":false,"tickSize":{"condition":{"test":"datum.value % 5 === 0","value":8},"value":4},"title":null}},"y":{"field":"mm","type":"quantitative","scale":{"domain":[-300,200],"nice":false},"axis":null}}},
{"data":{"name":"elevation"},"transform":[{"filter":"datum.profile === 'D'"}],"mark":{"type":"line","color":"black","strokeWidth":1.6,"strokeDash":[6,3]},"encoding":{"x":{"field":"km","type":"quantitative","scale":{"domain":[0,13],"nice":false},"axis":null},"y":{"field":"m","type":"quantitative","scale":{"domain":[0,1000],"nice":false},"axis":{"orient":"right","values":[0,100,200,300,400,500,600,700,800,900,1000],"labelExpr":"datum.value % 200 === 0 && datum.value <= 400 ? datum.label : ''","tickSize":{"condition":{"test":"datum.value % 200 === 0","value":8},"value":4},"labelPadding":5,"title":"Elevation(m)","titleAngle":-90,"titleX":58,"titleY":100,"titleBaseline":"alphabetic"}}}},
{"data":{"name":"labels"},"transform":[{"filter":"datum.orbit === 'Descending' && datum.profile === 'D'"}],"mark":{"type":"text","align":"left","baseline":"alphabetic","fontSize":18,"color":"black"},"encoding":{"x":{"datum":0.56,"type":"quantitative","scale":{"domain":[0,13],"nice":false},"axis":null},"y":{"datum":-102,"type":"quantitative","scale":{"domain":[-300,200],"nice":false},"axis":null},"text":{"field":"label"}}}
]}
]},
{"title":{"text":"Ascending Orbit","fontSize":20.5,"anchor":"middle","dx":6,"offset":7},
"bounds":"flush","spacing":44.7,
"hconcat":[
{"width":132,"height":132,"resolve":{"scale":{"x":"independent","y":"independent"}},"layer":[
{"data":{"name":"los"},"transform":[{"filter":"datum.orbit === 'Ascending' && datum.profile === 'A'"}],"mark":{"type":"line","color":"black","strokeWidth":1.5},"encoding":{"x":{"field":"km","type":"quantitative","scale":{"domain":[0,13],"nice":false},"axis":{"orient":"bottom","values":[0,1,2,3,4,5,6,7,8,9,10,11,12,13],"labelExpr":"datum.value % 5 === 0 ? datum.label : ''","tickSize":{"condition":{"test":"datum.value % 5 === 0","value":8},"value":4},"labelPadding":5,"title":"Distance(km)","titleFontSize":15,"titleX":51,"titleY":47,"titleBaseline":"alphabetic"}},"y":{"field":"mm","type":"quantitative","scale":{"domain":[-300,200],"nice":false},"axis":{"orient":"left","values":[-300,-250,-200,-150,-100,-50,0,50,100,150,200],"labelExpr":"datum.value % 100 === 0 ? datum.label : ''","tickSize":{"condition":{"test":"datum.value % 100 === 0","value":8},"value":4},"labelPadding":10,"title":"LOS Disp(mm)","titleX":-63,"titleY":66,"titleBaseline":"alphabetic"}}}},
{"data":{"name":"model"},"transform":[{"filter":"datum.orbit === 'Ascending' && datum.profile === 'A'"}],"mark":{"type":"line","color":"black","strokeWidth":1.2,"strokeDash":[2,2]},"encoding":{"x":{"field":"km","type":"quantitative","scale":{"domain":[0,13],"nice":false},"axis":{"orient":"top","values":[0,1,2,3,4,5,6,7,8,9,10,11,12,13],"labels":false,"tickSize":{"condition":{"test":"datum.value % 5 === 0","value":8},"value":4},"title":null}},"y":{"field":"mm","type":"quantitative","scale":{"domain":[-300,200],"nice":false},"axis":{"orient":"right","values":[-300,-250,-200,-150,-100,-50,0,50,100,150,200],"labels":false,"tickSize":{"condition":{"test":"datum.value % 100 === 0","value":8},"value":4},"title":null}}}},
{"data":{"name":"elevation"},"transform":[{"filter":"datum.profile === 'A'"}],"mark":{"type":"line","color":"black","strokeWidth":1.6,"strokeDash":[6,3]},"encoding":{"x":{"field":"km","type":"quantitative","scale":{"domain":[0,13],"nice":false},"axis":null},"y":{"field":"m","type":"quantitative","scale":{"domain":[0,1000],"nice":false},"axis":null}}},
{"data":{"name":"labels"},"transform":[{"filter":"datum.orbit === 'Ascending' && datum.profile === 'A'"}],"mark":{"type":"text","align":"left","baseline":"alphabetic","fontSize":18,"color":"black"},"encoding":{"x":{"datum":0.56,"type":"quantitative","scale":{"domain":[0,13],"nice":false},"axis":null},"y":{"datum":134,"type":"quantitative","scale":{"domain":[-300,200],"nice":false},"axis":null},"text":{"field":"label"}}}
]},
{"width":132,"height":132,"resolve":{"scale":{"x":"independent","y":"independent"}},"layer":[
{"data":{"name":"los"},"transform":[{"filter":"datum.orbit === 'Ascending' && datum.profile === 'B'"}],"mark":{"type":"line","color":"black","strokeWidth":1.5},"encoding":{"x":{"field":"km","type":"quantitative","scale":{"domain":[0,13],"nice":false},"axis":{"orient":"bottom","values":[0,1,2,3,4,5,6,7,8,9,10,11,12,13],"labelExpr":"datum.value % 5 === 0 ? datum.label : ''","tickSize":{"condition":{"test":"datum.value % 5 === 0","value":8},"value":4},"labelPadding":5,"title":"Distance(km)","titleFontSize":15,"titleX":51,"titleY":47,"titleBaseline":"alphabetic"}},"y":{"field":"mm","type":"quantitative","scale":{"domain":[-300,200],"nice":false},"axis":{"orient":"left","values":[-300,-250,-200,-150,-100,-50,0,50,100,150,200],"labels":false,"tickSize":{"condition":{"test":"datum.value % 100 === 0","value":8},"value":4},"title":null}}}},
{"data":{"name":"model"},"transform":[{"filter":"datum.orbit === 'Ascending' && datum.profile === 'B'"}],"mark":{"type":"line","color":"black","strokeWidth":1.2,"strokeDash":[2,2]},"encoding":{"x":{"field":"km","type":"quantitative","scale":{"domain":[0,13],"nice":false},"axis":{"orient":"top","values":[0,1,2,3,4,5,6,7,8,9,10,11,12,13],"labels":false,"tickSize":{"condition":{"test":"datum.value % 5 === 0","value":8},"value":4},"title":null}},"y":{"field":"mm","type":"quantitative","scale":{"domain":[-300,200],"nice":false},"axis":{"orient":"right","values":[-300,-250,-200,-150,-100,-50,0,50,100,150,200],"labels":false,"tickSize":{"condition":{"test":"datum.value % 100 === 0","value":8},"value":4},"title":null}}}},
{"data":{"name":"elevation"},"transform":[{"filter":"datum.profile === 'B'"}],"mark":{"type":"line","color":"black","strokeWidth":1.6,"strokeDash":[6,3]},"encoding":{"x":{"field":"km","type":"quantitative","scale":{"domain":[0,13],"nice":false},"axis":null},"y":{"field":"m","type":"quantitative","scale":{"domain":[0,1000],"nice":false},"axis":null}}},
{"data":{"name":"labels"},"transform":[{"filter":"datum.orbit === 'Ascending' && datum.profile === 'B'"}],"mark":{"type":"text","align":"left","baseline":"alphabetic","fontSize":18,"color":"black"},"encoding":{"x":{"datum":0.56,"type":"quantitative","scale":{"domain":[0,13],"nice":false},"axis":null},"y":{"datum":134,"type":"quantitative","scale":{"domain":[-300,200],"nice":false},"axis":null},"text":{"field":"label"}}}
]},
{"width":132,"height":132,"resolve":{"scale":{"x":"independent","y":"independent"}},"layer":[
{"data":{"name":"los"},"transform":[{"filter":"datum.orbit === 'Ascending' && datum.profile === 'C'"}],"mark":{"type":"line","color":"black","strokeWidth":1.5},"encoding":{"x":{"field":"km","type":"quantitative","scale":{"domain":[0,13],"nice":false},"axis":{"orient":"bottom","values":[0,1,2,3,4,5,6,7,8,9,10,11,12,13],"labelExpr":"datum.value % 5 === 0 ? datum.label : ''","tickSize":{"condition":{"test":"datum.value % 5 === 0","value":8},"value":4},"labelPadding":5,"title":"Distance(km)","titleFontSize":15,"titleX":51,"titleY":47,"titleBaseline":"alphabetic"}},"y":{"field":"mm","type":"quantitative","scale":{"domain":[-300,200],"nice":false},"axis":{"orient":"left","values":[-300,-250,-200,-150,-100,-50,0,50,100,150,200],"labels":false,"tickSize":{"condition":{"test":"datum.value % 100 === 0","value":8},"value":4},"title":null}}}},
{"data":{"name":"model"},"transform":[{"filter":"datum.orbit === 'Ascending' && datum.profile === 'C'"}],"mark":{"type":"line","color":"black","strokeWidth":1.2,"strokeDash":[2,2]},"encoding":{"x":{"field":"km","type":"quantitative","scale":{"domain":[0,13],"nice":false},"axis":{"orient":"top","values":[0,1,2,3,4,5,6,7,8,9,10,11,12,13],"labels":false,"tickSize":{"condition":{"test":"datum.value % 5 === 0","value":8},"value":4},"title":null}},"y":{"field":"mm","type":"quantitative","scale":{"domain":[-300,200],"nice":false},"axis":{"orient":"right","values":[-300,-250,-200,-150,-100,-50,0,50,100,150,200],"labels":false,"tickSize":{"condition":{"test":"datum.value % 100 === 0","value":8},"value":4},"title":null}}}},
{"data":{"name":"elevation"},"transform":[{"filter":"datum.profile === 'C'"}],"mark":{"type":"line","color":"black","strokeWidth":1.6,"strokeDash":[6,3]},"encoding":{"x":{"field":"km","type":"quantitative","scale":{"domain":[0,13],"nice":false},"axis":null},"y":{"field":"m","type":"quantitative","scale":{"domain":[0,1000],"nice":false},"axis":null}}},
{"data":{"name":"labels"},"transform":[{"filter":"datum.orbit === 'Ascending' && datum.profile === 'C'"}],"mark":{"type":"text","align":"left","baseline":"alphabetic","fontSize":18,"color":"black"},"encoding":{"x":{"datum":0.56,"type":"quantitative","scale":{"domain":[0,13],"nice":false},"axis":null},"y":{"datum":134,"type":"quantitative","scale":{"domain":[-300,200],"nice":false},"axis":null},"text":{"field":"label"}}}
]},
{"width":132,"height":132,"resolve":{"scale":{"x":"independent","y":"independent"}},"layer":[
{"data":{"name":"los"},"transform":[{"filter":"datum.orbit === 'Ascending' && datum.profile === 'D'"}],"mark":{"type":"line","color":"black","strokeWidth":1.5},"encoding":{"x":{"field":"km","type":"quantitative","scale":{"domain":[0,13],"nice":false},"axis":{"orient":"bottom","values":[0,1,2,3,4,5,6,7,8,9,10,11,12,13],"labelExpr":"datum.value % 5 === 0 ? datum.label : ''","tickSize":{"condition":{"test":"datum.value % 5 === 0","value":8},"value":4},"labelPadding":5,"title":"Distance(km)","titleFontSize":15,"titleX":51,"titleY":47,"titleBaseline":"alphabetic"}},"y":{"field":"mm","type":"quantitative","scale":{"domain":[-300,200],"nice":false},"axis":{"orient":"left","values":[-300,-250,-200,-150,-100,-50,0,50,100,150,200],"labels":false,"tickSize":{"condition":{"test":"datum.value % 100 === 0","value":8},"value":4},"title":null}}}},
{"data":{"name":"model"},"transform":[{"filter":"datum.orbit === 'Ascending' && datum.profile === 'D'"}],"mark":{"type":"line","color":"black","strokeWidth":1.2,"strokeDash":[2,2]},"encoding":{"x":{"field":"km","type":"quantitative","scale":{"domain":[0,13],"nice":false},"axis":{"orient":"top","values":[0,1,2,3,4,5,6,7,8,9,10,11,12,13],"labels":false,"tickSize":{"condition":{"test":"datum.value % 5 === 0","value":8},"value":4},"title":null}},"y":{"field":"mm","type":"quantitative","scale":{"domain":[-300,200],"nice":false},"axis":null}}},
{"data":{"name":"elevation"},"transform":[{"filter":"datum.profile === 'D'"}],"mark":{"type":"line","color":"black","strokeWidth":1.6,"strokeDash":[6,3]},"encoding":{"x":{"field":"km","type":"quantitative","scale":{"domain":[0,13],"nice":false},"axis":null},"y":{"field":"m","type":"quantitative","scale":{"domain":[0,1000],"nice":false},"axis":{"orient":"right","values":[0,100,200,300,400,500,600,700,800,900,1000],"labelExpr":"datum.value % 200 === 0 && datum.value <= 400 ? datum.label : ''","tickSize":{"condition":{"test":"datum.value % 200 === 0","value":8},"value":4},"labelPadding":5,"title":"Elevation(m)","titleAngle":-90,"titleX":58,"titleY":100,"titleBaseline":"alphabetic"}}}},
{"data":{"name":"labels"},"transform":[{"filter":"datum.orbit === 'Ascending' && datum.profile === 'D'"}],"mark":{"type":"text","align":"left","baseline":"alphabetic","fontSize":18,"color":"black"},"encoding":{"x":{"datum":0.56,"type":"quantitative","scale":{"domain":[0,13],"nice":false},"axis":null},"y":{"datum":134,"type":"quantitative","scale":{"domain":[-300,200],"nice":false},"axis":null},"text":{"field":"label"}}}
]}
]}
],
"spacing":13,
"config":{
"font":"Liberation Sans",
"view":{"stroke":"black","strokeWidth":2},
"axis":{"domain":false,"grid":false,"tickColor":"black","tickWidth":1.3,"labelColor":"black","labelFont":"Liberation Sans","labelFontSize":17,"labelFlush":false,"labelOverlap":false,"titleColor":"black","titleFont":"Liberation Sans","titleFontWeight":"normal","titleFontSize":17},
"title":{"font":"Liberation Sans","fontSize":20.5,"fontWeight":"normal","color":"black"},
"text":{"font":"Liberation Sans"}
}
}
